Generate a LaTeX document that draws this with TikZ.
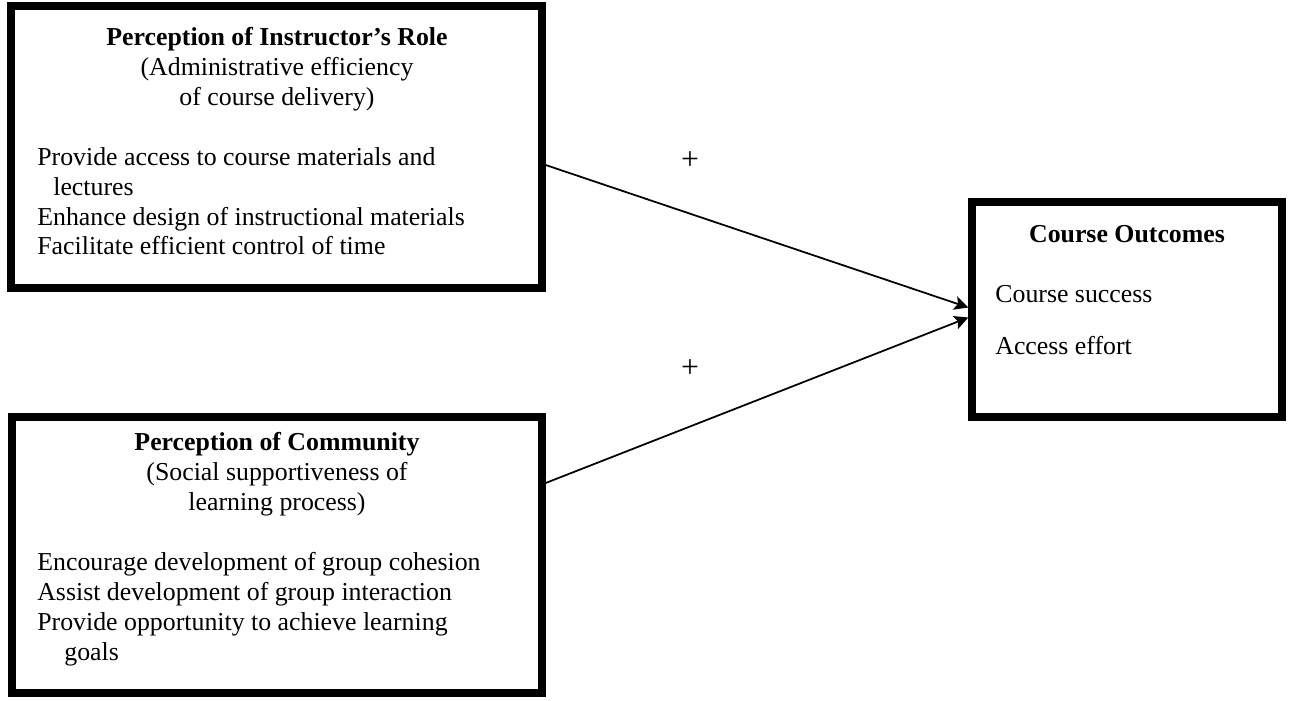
\documentclass[tikz,border=0pt]{standalone}
\usepackage{fontspec}
\setmainfont{Liberation Serif}
\usetikzlibrary{arrows.meta}
\tikzset{
  >={Stealth[length=2.8mm,width=2.8mm,inset=0.6mm]},
  frame/.style={draw=black,line width=4.2pt,inner sep=0pt},
  txt/.style={font=\fontsize{14.7}{17}\selectfont,inner sep=0pt,text=black},
  head/.style={txt,align=center,anchor=north},
  list/.style={txt,align=left,anchor=north west},
  sign/.style={font=\fontsize{18}{18}\selectfont,inner sep=0pt},
  link/.style={->,line width=1pt},
}

\begin{document}
\begin{tikzpicture}[x=0.02cm,y=-0.02cm]
  \useasboundingbox (0,0) rectangle (1291,700);
  % the three boxes
  \node[frame,minimum width=10.62cm,minimum height=5.64cm] (ins) at (276.5,147) {};
  \node[frame,minimum width=10.6cm,minimum height=5.52cm] (com) at (277,555) {};
  \node[frame,minimum width=6.2cm,minimum height=4.3cm] (out) at (1127,309.5) {};
  % texts
  \node[head] (insHead) at (277,27) {\textbf{Perception of Instructor's Role}\\(Administrative efficiency\\of course delivery)};
  \node[list] (insList) at (37,147) {Provide access to course materials and\\\hspace*{0.32cm}lectures\\Enhance design of instructional materials\\Facilitate efficient control of time};
  \node[head] (comHead) at (277,432) {\textbf{Perception of Community}\\(Social supportiveness of\\learning process)};
  \node[list] (comList) at (37,552) {Encourage development of group cohesion\\Assist development of group interaction\\Provide opportunity to achieve learning\\\hspace*{0.54cm}goals};
  \node[head] (outHead) at (1127,225) {\textbf{Course Outcomes}};
  \node[list] (outList) at (995,285) {Course success\\[12.6pt]Access effort};
  % paths
  \draw[link] ([yshift=-0.36cm]ins.east) -- ([yshift=0.04cm]out.west);
  \draw[link] ([yshift=1.44cm]com.east) -- ([yshift=-0.16cm]out.west);
  \node[sign] (plusA) at (690,161) {+};
  \node[sign] (plusB) at (690,369) {+};
\end{tikzpicture}
\end{document}
